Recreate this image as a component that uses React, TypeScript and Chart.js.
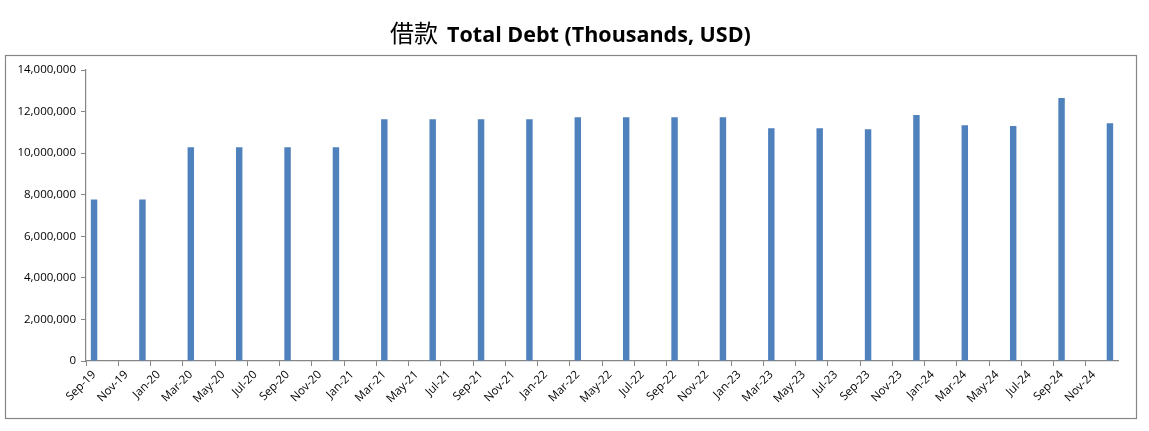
import React, { useEffect, useRef } from "react";
import { Chart, registerables } from "chart.js";

Chart.register(...registerables);

// Monthly category axis (Sep-19 .. Dec-24)
const categories: string[] = [
  "Sep-19", "Oct-19", "Nov-19", "Dec-19",
  "Jan-20", "Feb-20", "Mar-20", "Apr-20", "May-20", "Jun-20", "Jul-20", "Aug-20", "Sep-20", "Oct-20", "Nov-20", "Dec-20",
  "Jan-21", "Feb-21", "Mar-21", "Apr-21", "May-21", "Jun-21", "Jul-21", "Aug-21", "Sep-21", "Oct-21", "Nov-21", "Dec-21",
  "Jan-22", "Feb-22", "Mar-22", "Apr-22", "May-22", "Jun-22", "Jul-22", "Aug-22", "Sep-22", "Oct-22", "Nov-22", "Dec-22",
  "Jan-23", "Feb-23", "Mar-23", "Apr-23", "May-23", "Jun-23", "Jul-23", "Aug-23", "Sep-23", "Oct-23", "Nov-23", "Dec-23",
  "Jan-24", "Feb-24", "Mar-24", "Apr-24", "May-24", "Jun-24", "Jul-24", "Aug-24", "Sep-24", "Oct-24", "Nov-24", "Dec-24",
];

// Quarterly reporting dates and total debt (thousands USD)
const debtDates: string[] = [
  "Sep-19", "Dec-19",
  "Mar-20", "Jun-20", "Sep-20", "Dec-20",
  "Mar-21", "Jun-21", "Sep-21", "Dec-21",
  "Mar-22", "Jun-22", "Sep-22", "Dec-22",
  "Mar-23", "Jun-23", "Sep-23", "Dec-23",
  "Mar-24", "Jun-24", "Sep-24", "Dec-24",
];
const debtValues: number[] = [
  7770000, 7770000,
  10280000, 10280000, 10280000, 10280000,
  11630000, 11630000, 11630000, 11630000,
  11730000, 11730000, 11730000, 11730000,
  11200000, 11200000, 11150000, 11830000,
  11340000, 11300000, 12650000, 11440000,
];

const yTicks: number[] = [0, 2000000, 4000000, 6000000, 8000000, 10000000, 12000000, 14000000];

const titleCn = "借款";
const titleEn = "Total Debt (Thousands, USD)";

const AXIS_COLOR = "#868686";
const BAR_COLOR = "#4F81BD";
const FONT = "'Open Sans', 'Noto Sans', sans-serif";

const frameAndTitle = {
  id: "frameAndTitle",
  beforeDraw(chart: any) {
    const ctx = chart.ctx;
    ctx.save();
    ctx.fillStyle = "#ffffff";
    ctx.fillRect(0, 0, chart.width, chart.height);
    ctx.strokeStyle = AXIS_COLOR;
    ctx.lineWidth = 1.2;
    ctx.strokeRect(5.5, 55.5, 1131, 363);
    ctx.restore();
  },
  afterDraw(chart: any) {
    const ctx = chart.ctx;
    ctx.save();
    ctx.fillStyle = "#000000";
    ctx.textBaseline = "alphabetic";
    const cnFont = "normal 24px 'Noto Sans CJK SC', sans-serif";
    const enFont = "bold 21.5px " + FONT;
    ctx.font = cnFont;
    const wCn = ctx.measureText(titleCn).width;
    ctx.font = enFont;
    const gap = 9;
    const wEn = ctx.measureText(titleEn).width;
    const total = wCn + gap + wEn;
    const cx = 570.5;
    const x0 = cx - total / 2;
    const baseline = 42;
    ctx.font = cnFont;
    ctx.textAlign = "left";
    ctx.fillText(titleCn, x0, baseline);
    ctx.font = enFont;
    ctx.fillText(titleEn, x0 + wCn + gap, baseline);
    ctx.restore();
  },
};

export default function App() {
  const canvasRef = useRef<HTMLCanvasElement | null>(null);

  useEffect(() => {
    if (!canvasRef.current) return;
    const dataMap: Record<string, number> = {};
    debtDates.forEach((d, i) => {
      dataMap[d] = debtValues[i];
    });
    const seriesData = categories.map((c) => (c in dataMap ? dataMap[c] : null));

    const chart = new Chart(canvasRef.current, {
      type: "bar",
      data: {
        labels: categories,
        datasets: [
          {
            label: "Total Debt",
            data: seriesData as any,
            backgroundColor: BAR_COLOR,
            borderWidth: 0,
            categoryPercentage: 1,
            barPercentage: 0.4,
          },
        ],
      },
      options: {
        animation: false,
        responsive: true,
        maintainAspectRatio: false,
        layout: { padding: { top: 70, right: 31, bottom: 0, left: 0 } },
        plugins: {
          legend: { display: false },
          title: { display: false },
          tooltip: { enabled: false },
        },
        scales: {
          x: {
            type: "category",
            offset: true,
            afterFit: (scale: any) => {
              scale.height = 70;
            },
            grid: {
              offset: true,
              drawOnChartArea: false,
              drawTicks: true,
              tickLength: 5,
              lineWidth: 1,
              color: (ctx: any) => (ctx.index % 2 === 0 ? AXIS_COLOR : "rgba(0,0,0,0)"),
            },
            border: { display: true, color: AXIS_COLOR, width: 1.2 },
            ticks: {
              autoSkip: false,
              minRotation: 45,
              maxRotation: 45,
              padding: 2,
              color: "#000000",
              font: { family: FONT, size: 11.5 },
              callback: (_v: any, i: number) => (i % 2 === 0 ? categories[i] : ""),
            },
          },
          y: {
            min: 0,
            max: 14000000,
            afterFit: (scale: any) => {
              scale.width = 86;
            },
            afterBuildTicks: (scale: any) => {
              scale.ticks = yTicks.map((v) => ({ value: v }));
            },
            grid: {
              drawOnChartArea: false,
              drawTicks: true,
              tickLength: 5,
              color: AXIS_COLOR,
            },
            border: { display: true, color: AXIS_COLOR, width: 1.2 },
            ticks: {
              padding: 5,
              color: "#000000",
              font: { family: FONT, size: 11.5 },
              callback: (v: any) => Number(v).toLocaleString("en-US"),
            },
          },
        },
      },
      plugins: [frameAndTitle],
    });
    return () => chart.destroy();
  }, []);

  return (
    <div style={{ position: "fixed", left: 0, top: 0, width: 1149, height: 431, background: "#fff" }}>
      <canvas ref={canvasRef} />
    </div>
  );
}
